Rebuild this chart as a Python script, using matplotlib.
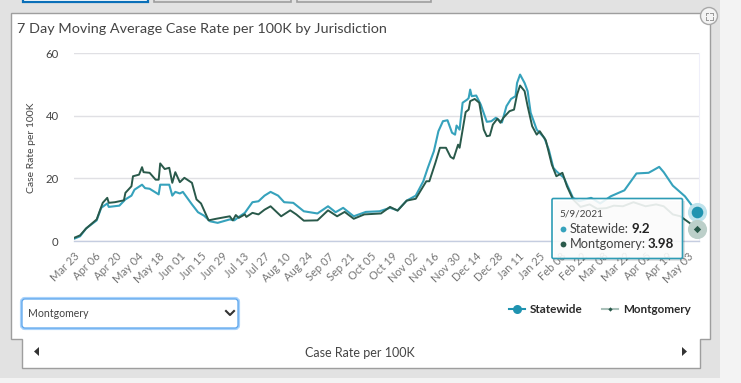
import matplotlib
matplotlib.use("Agg")
import matplotlib.pyplot as plt
from matplotlib.patches import Rectangle, Polygon, Circle, FancyBboxPatch

plt.rcParams['font.family'] = ['Lato', 'DejaVu Sans']

# days since Mar 23 2020
state_days = [0, 4, 8, 15, 18, 22, 23, 30, 34, 38, 40, 45, 47, 50, 56, 57, 63, 65, 67, 70, 72, 78, 82, 86, 90, 95,
              103, 106, 109, 113, 118, 122, 126, 130, 135, 139, 145, 152, 161, 168, 173, 178, 185, 193, 202, 209, 214,
              220, 226, 231, 234, 238, 241, 244, 247, 250, 252, 253, 255, 257, 260, 261, 262, 263, 266, 269, 273, 276,
              279, 283, 286, 289, 292, 293, 295, 298, 300, 302, 306, 311, 314, 317, 319, 324, 330, 334, 342, 348, 355,
              364, 372, 380, 383, 387, 390, 396, 404, 412]
state_vals = [0.7, 1.5, 4.0, 6.6, 10.6, 12.0, 10.9, 11.3, 13.3, 14.5, 16.4, 18.0, 16.9, 16.7, 14.9, 18.0, 18.0, 14.5, 15.7, 15.2, 15.7, 11.7, 9.2, 8.1, 6.3, 5.8,
              6.9, 6.6, 7.7, 9.0, 12.4, 12.7, 14.5, 15.7, 14.5, 12.4, 12.2, 9.5, 8.8, 11.1, 9.2, 10.6, 7.9, 9.3, 9.5, 10.6, 9.8,
              12.9, 14.5, 19.1, 23.4, 28.7, 35.1, 38.3, 38.6, 34.6, 34.0, 36.9, 35.6, 44.2, 45.2, 45.7, 48.4, 46.3, 46.5, 43.6, 38.1, 38.3,
              39.4, 37.9, 43.1, 45.4, 46.3, 50.5, 53.2, 50.5, 47.9, 41.0, 35.6, 33.0, 29.2, 23.4, 22.3, 20.2, 13.8, 12.7, 13.8, 12.0, 14.3,
              16.2, 21.6, 21.8, 22.6, 23.7, 22.0, 17.7, 14.3, 9.2]

mont_days = [0, 4, 8, 15, 19, 22, 23, 27, 33, 34, 38, 39, 43, 45, 46, 50, 54, 56, 57, 60, 63, 65, 67, 70, 73, 78, 81, 84, 89, 94,
             103, 105, 107, 109, 113, 114, 118, 122, 126, 130, 137, 143, 147, 152, 161, 168, 174, 179, 185, 192, 203, 209, 214,
             220, 226, 233, 235, 239, 242, 246, 249, 251, 254, 255, 259, 261, 262, 265, 268, 271, 273, 275, 277, 280, 282, 284, 288,
             291, 293, 295, 298, 300, 303, 306, 308, 312, 316, 319, 323, 326, 330, 335, 341, 346, 352, 357, 363, 370, 378, 385, 390,
             396, 401, 407, 412]
mont_vals = [1.0, 1.8, 4.0, 6.9, 12.2, 13.8, 12.2, 12.4, 13.0, 15.4, 17.5, 20.7, 21.2, 23.6, 22.0, 21.8, 19.6, 19.6, 24.8, 23.0, 23.4, 18.6, 22.0, 18.8, 20.2, 18.6, 13.3, 12.0, 6.6, 7.1,
             7.9, 6.6, 8.3, 7.4, 8.5, 7.7, 9.0, 8.5, 10.0, 11.1, 7.9, 9.8, 8.5, 6.5, 6.6, 9.8, 7.9, 9.3, 7.1, 8.5, 8.8, 10.9, 9.7,
             12.9, 13.5, 19.1, 19.1, 25.0, 29.8, 29.8, 26.9, 26.3, 30.8, 29.8, 41.2, 42.0, 44.7, 45.4, 44.2, 35.6, 33.5, 33.7, 37.2, 39.1, 37.8, 39.4, 41.5,
             42.0, 46.8, 49.7, 47.9, 43.1, 36.7, 34.0, 35.1, 32.2, 24.4, 20.7, 21.8, 17.5, 13.3, 10.9, 11.7, 10.3, 10.5, 11.3, 11.1, 12.4, 11.1, 11.7, 11.1,
             8.5, 7.9, 5.8, 3.98]

tick_labels = ["Mar 23", "Apr 06", "Apr 20", "May 04", "May 18", "Jun 01", "Jun 15", "Jun 29", "Jul 13", "Jul 27",
               "Aug 10", "Aug 24", "Sep 07", "Sep 21", "Oct 05", "Oct 19", "Nov 02", "Nov 16", "Nov 30", "Dec 14",
               "Dec 28", "Jan 11", "Jan 25", "Feb 08", "Feb 22", "Mar 08", "Mar 22", "Apr 05", "Apr 19", "May 03"]
tick_days = list(range(0, 407, 14))
y_ticks = [0, 20, 40, 60]

W, H = 741, 383
TEAL = "#36a2bc"
DARK = "#29594a"
TXT = "#444444"
GRAY = "#9e9e9e"

fig = plt.figure(figsize=(W/100, H/100), dpi=100, facecolor="#f3f3f3")

# page furniture, drawn in pixel coordinates
bg = fig.add_axes([0, 0, 1, 1], zorder=0)
bg.set_xlim(0, W)
bg.set_ylim(H, 0)
bg.axis("off")
bg.add_patch(Rectangle((0, 0), 720, 378, fc="#e2e2e2", ec="none"))
bg.add_patch(Rectangle((23, -2), 125, 4, fc="white", ec="#0a6fb8", lw=1.6))
bg.add_patch(Rectangle((154, -2), 137, 4, fc="#e2e2e2", ec=GRAY, lw=1.2))
bg.add_patch(Rectangle((297, -2), 134, 4, fc="#e2e2e2", ec=GRAY, lw=1.2))
panel = [(10.5, 12.5), (709.5, 12.5), (709.5, 338.5), (699.5, 338.5), (699.5, 368),
         (21.5, 368), (21.5, 338.5), (10.5, 338.5)]
bg.add_patch(Polygon(panel, closed=True, fc="white", ec=GRAY, lw=1))
bg.text(17, 29, "7 Day Moving Average Case Rate per 100K by Jurisdiction", fontsize=10.35, color=TXT, va="center")
bg.text(31, 148, "Case Rate per 100K", fontsize=7.5, color=TXT, rotation=90, ha="center", va="center")

# expand button
bg.add_patch(Circle((709, 16), 8.5, fc="#f4f4f4", ec="#a8a8a8", lw=1))
for sx in (-1, 1):
    for sy in (-1, 1):
        cx, cy = 709 + sx*3.5, 16 + sy*3.5
        bg.plot([cx, cx - sx*2.5], [cy, cy], color="#999999", lw=0.7)
        bg.plot([cx, cx], [cy, cy - sy*2.5], color="#999999", lw=0.7)

# dropdown
bg.add_patch(FancyBboxPatch((22, 299), 216, 29, boxstyle="round,pad=0,rounding_size=3", fc="white", ec="#a9d2fb", lw=3))
bg.add_patch(FancyBboxPatch((22, 299), 216, 29, boxstyle="round,pad=0,rounding_size=3", fc="white", ec="#5aa5ec", lw=0.9))
bg.text(28, 313.5, "Montgomery", fontsize=7.6, color=TXT, va="center")
bg.plot([226, 230, 234], [311, 315, 311], color="#333333", lw=1.5)

# bottom nav
bg.add_patch(Polygon([(39, 347), (39, 356), (34, 351.5)], closed=True, fc="#333333", ec="none"))
bg.add_patch(Polygon([(682, 347), (682, 356), (687, 351.5)], closed=True, fc="#333333", ec="none"))
bg.text(360, 353, "Case Rate per 100K", fontsize=9, color=TXT, ha="center", va="center")

# legend
bg.plot([509, 525], [309, 309], color="#1f93b0", lw=1.5)
bg.plot([517], [309], "o", color="#1f93b0", ms=6.5, mec="none")
bg.text(530, 309.5, "Statewide", fontsize=8.5, fontweight="bold", color="#2b2b2b", va="center")
bg.plot([602, 618], [309, 309], color="#a9c0b9", lw=1.5)
bg.plot([610], [309], "D", color=DARK, ms=2.2, mec="none")
bg.text(623.5, 309.5, "Montgomery", fontsize=8.4, fontweight="bold", color="#2b2b2b", va="center")

# the chart
left, right, top, bottom = 74, 698.5, 53.3, 241
ax = fig.add_axes([left/W, 1 - bottom/H, (right - left)/W, (bottom - top)/H], zorder=1)
ax.patch.set_alpha(0)
ax.set_xlim(0, 413)
ax.set_ylim(0, 60)
for s in ("top", "left"):
    ax.spines[s].set_visible(False)
ax.spines["bottom"].set_color("#c5cde0")
ax.spines["right"].set_color("#efeffa")
ax.spines["bottom"].set_linewidth(1)
ax.set_yticks(y_ticks)
ax.set_xticks(tick_days)
ax.set_xticklabels(tick_labels, rotation=45, ha="right", rotation_mode="anchor")
ax.tick_params(axis="x", length=0, pad=7, labelsize=8, labelcolor="#777777")
ax.tick_params(axis="y", length=0, pad=11, labelsize=8.2, labelcolor=TXT)
ax.grid(axis="y", color="#e0e0e4", lw=1)
ax.set_axisbelow(True)
ax.plot(state_days, state_vals, color=TEAL, lw=1.5, solid_joinstyle="round", zorder=3)
ax.plot(mont_days, mont_vals, color=DARK, lw=1.4, solid_joinstyle="round", zorder=4)

# hover markers at the last date
ax.scatter(state_days[-1], state_vals[-1], s=190, color="#bfe3ec", clip_on=False, zorder=5, linewidths=0)
ax.scatter(state_days[-1], state_vals[-1], s=70, color="#1f93b0", clip_on=False, zorder=6, linewidths=0)
ax.scatter(mont_days[-1], mont_vals[-1], s=190, color="#bccfc9", clip_on=False, zorder=5, linewidths=0)
ax.scatter(mont_days[-1], mont_vals[-1], s=14, color=DARK, marker="D", clip_on=False, zorder=6, linewidths=0)

# tooltip sits on top of everything
fg = fig.add_axes([0, 0, 1, 1], zorder=2)
fg.set_xlim(0, W)
fg.set_ylim(H, 0)
fg.axis("off")
fg.patch.set_alpha(0)
fg.add_patch(Rectangle((553.5, 200.5), 131, 60, fc="#000000", alpha=0.10, ec="none"))
fg.add_patch(FancyBboxPatch((552, 198.5), 130.5, 60, boxstyle="round,pad=0,rounding_size=1.5",
                            fc=(1, 1, 1, 0.88), ec="#2e9cb5", lw=1.2))
fg.text(559.5, 214, "5/9/2021", fontsize=7.2, color=TXT, va="center")
fg.plot([562.5], [228.5], "o", color=TEAL, ms=4.2, mec="none")
fg.plot([562.5], [243.5], "o", color=DARK, ms=4.2, mec="none")
fg.text(569.5, 229, "Statewide:", fontsize=9.2, color=TXT, va="center")
fg.text(631, 229, "9.2", fontsize=9.6, color="#222222", fontweight="bold", va="center")
fg.text(569.5, 244, "Montgomery:", fontsize=9.2, color=TXT, va="center")
fg.text(648, 244, "3.98", fontsize=9.6, color="#222222", fontweight="bold", va="center")

fig.savefig("out.png", dpi=100, facecolor=fig.get_facecolor())
